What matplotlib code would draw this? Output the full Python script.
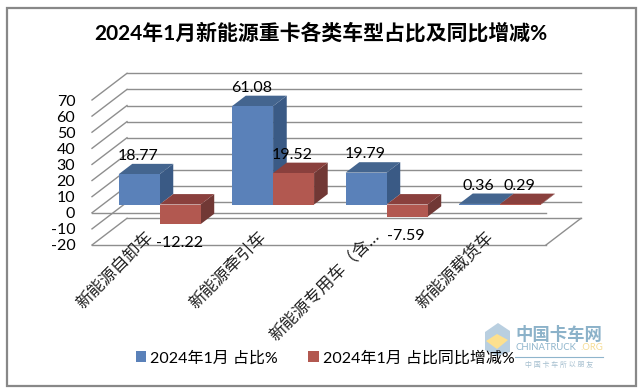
import matplotlib
matplotlib.use("Agg")
import matplotlib.pyplot as plt
from matplotlib.patches import Polygon, Patch, Rectangle
from matplotlib.transforms import ScaledTranslation

plt.rcParams['font.family'] = ['Lato', 'Noto Sans CJK SC', 'DejaVu Sans']

title = "2024年1月新能源重卡各类车型占比及同比增减%"
categories = ["新能源自卸车", "新能源牵引车", "新能源专用车（含…", "新能源载货车"]
series_names = ["2024年1月 占比%", "2024年1月 占比同比增减%"]
share = [18.77, 61.08, 19.79, 0.36]
yoy = [-12.22, 19.52, -7.59, 0.29]
yticks = [70, 60, 50, 40, 30, 20, 10, 0, -10, -20]

W, H = 640, 392
# front plane of the 3d box in pixels
LEFT, RIGHT, TOP, BOTTOM = 92, 546, 100, 245
BACK_DX = 35 / 113.5      # depth 1 in category units
BACK_DY = 26.7 / 1.611    # depth 1 in value units
BAR_W = 0.361
D0, D1 = 0.31, 0.70

fig = plt.figure(figsize=(W / 100, H / 100), dpi=100)
ax = fig.add_axes([LEFT / W, 1 - BOTTOM / H, (RIGHT - LEFT) / W, (BOTTOM - TOP) / H])
ax.set_xlim(0, 4)
ax.set_ylim(-20, 70)
ax.patch.set_visible(False)
for s in ax.spines.values():
    s.set_visible(False)


def pt(x, v, d):
    return (x + d * BACK_DX, v + d * BACK_DY)


def px(x, y):
    return (x / W, 1 - y / H)


def bar3d(x, v, front, top, side, z):
    x1 = x + BAR_W
    hi = max(v, 0)
    lo = min(v, 0)
    ax.add_patch(Polygon([pt(x, lo, D0), pt(x1, lo, D0), pt(x1, hi, D0), pt(x, hi, D0)],
                         fc=front, ec='none', zorder=z + 0.2, clip_on=False))
    ax.add_patch(Polygon([pt(x, hi, D0), pt(x1, hi, D0), pt(x1, hi, D1), pt(x, hi, D1)],
                         fc=top, ec='none', zorder=z + 0.1, clip_on=False))
    ax.add_patch(Polygon([pt(x1, lo, D0), pt(x1, lo, D1), pt(x1, hi, D1), pt(x1, hi, D0)],
                         fc=side, ec='none', zorder=z, clip_on=False))


GRID = '#8e8e8e'
for v in yticks:
    ax.plot(*zip(pt(0, v, 1), pt(4, v, 1)), color=GRID, lw=1.0, zorder=1, clip_on=False)
    ax.plot(*zip(pt(0, v, 0), pt(0, v, 1)), color=GRID, lw=1.0, zorder=1, clip_on=False)
ax.plot([0, 4], [-20, -20], color=GRID, lw=1.0, zorder=1, clip_on=False)
ax.plot([0, 4], [0, 0], color=GRID, lw=1.0, zorder=1, clip_on=False)
ax.plot(*zip(pt(4, -20, 0), pt(4, -20, 1)), color=GRID, lw=1.0, zorder=1, clip_on=False)

for i in range(4):
    x0 = i + 0.5 - BAR_W
    bar3d(x0, share[i], '#5a81b9', '#44658f', '#3a5a85', 3 + i)
    bar3d(x0 + BAR_W, yoy[i], '#b25850', '#8a403d', '#713835', 3.5 + i)

for i in range(4):
    for x0, v in ((i + 0.5 - BAR_W, share[i]), (i + 0.5, yoy[i])):
        xc = x0 + BAR_W / 2
        if v >= 0:
            xy, off = (pt(xc, v, D0)[0], pt(xc, v, D1)[1]), 8
        else:
            xy, off = pt(xc, v, D0), -19
        ax.annotate("%.2f" % v, xy=xy, xytext=(-1, off), textcoords='offset pixels',
                    ha='center', va='center', fontsize=11.5, color='black', zorder=20,
                    annotation_clip=False)

ax.set_yticks(yticks)
ax.set_yticklabels([str(v) for v in yticks], fontsize=11.5, color='black')
ax.set_xticks([0.5, 1.5, 2.5, 3.5])
ax.set_xticklabels(categories, fontsize=12.2, color='#222222', rotation=45,
                   ha='right', va='top', rotation_mode='anchor')
ax.tick_params(axis='y', length=0, pad=12)
ax.tick_params(axis='x', length=0, pad=-12)
shift = ScaledTranslation(-4 / 100, 0, fig.dpi_scale_trans)
for lab in ax.get_xticklabels():
    lab.set_transform(lab.get_transform() + shift)

fig.text(*px(321, 33), title, ha='center', va='center', fontsize=15,
         fontweight='bold', color='black')

handles = [Patch(fc='#5a81b9', ec='none'), Patch(fc='#b25850', ec='none')]
fig.legend(handles, series_names, loc='center', bbox_to_anchor=px(325, 358),
           ncol=2, frameon=False, fontsize=11.5, handlelength=0.65, handleheight=0.65,
           handletextpad=0.25, columnspacing=1.9, borderpad=0, labelcolor='black')

# outer chart frame
fig.add_artist(Rectangle(px(7, 385.5), 629 / W, 377.5 / H, fc='none', ec='#888888',
                         lw=1.6, transform=fig.transFigure))

# watermark
fig.add_artist(Polygon([px(485, 332), px(498, 323), px(510, 331), px(510, 352), px(497, 356), px(485, 350)],
                       fc='#b9cfe0', ec='none', transform=fig.transFigure))
fig.add_artist(Polygon([px(486, 341), px(497, 334), px(508, 340), px(497, 349)],
                       fc='#fde08e', ec='none', transform=fig.transFigure))
fig.text(*px(559, 335), "中国卡车网", ha='center', va='center', fontsize=12.5,
         color='#6f9fbc', fontweight='bold', alpha=0.8)
fig.text(*px(516, 347), "CHINATRUCK", ha='left', va='center', fontsize=6.8, color='#8fb5cc')
fig.text(*px(603, 347), ".ORG", ha='right', va='center', fontsize=6.8, color='#f6dc94')
fig.add_artist(plt.Line2D(*zip(px(515, 357), px(603, 357)), color='#8fb5cc', lw=0.8))
fig.text(*px(559, 364), "中 国 卡 车 所 以 朋 友", ha='center', va='center', fontsize=5,
         color='#a5bfcf')

fig.savefig("out.png", dpi=100)
